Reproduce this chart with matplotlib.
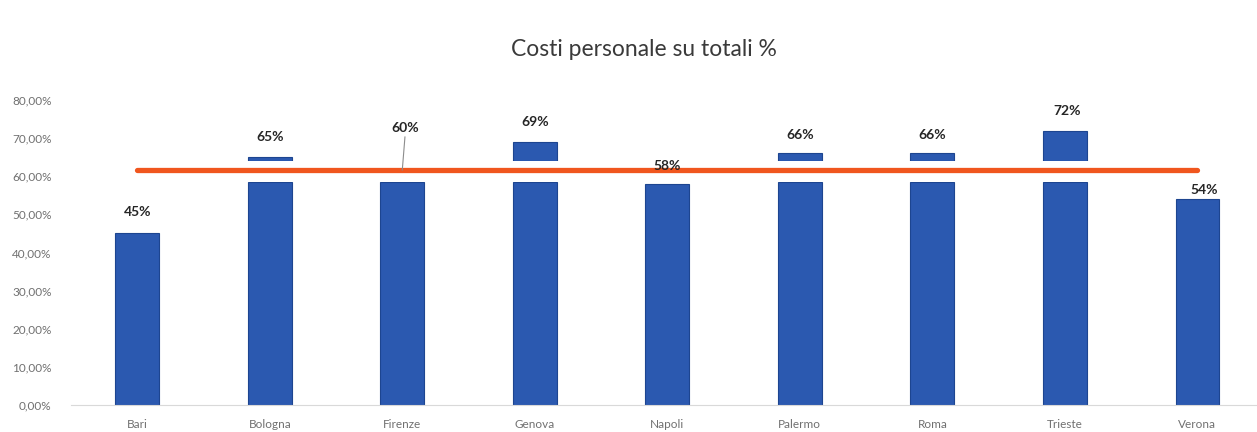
import numpy as np
import matplotlib.pyplot as plt
from matplotlib.ticker import FuncFormatter

# data
cities = ['Bari', 'Bologna', 'Firenze', 'Genova', 'Napoli', 'Palermo', 'Roma', 'Trieste', 'Verona']
costi_pct = [45, 65, 60, 69, 58, 66, 66, 72, 54]
label_texts = ['45%', '65%', '60%', '69%', '58%', '66%', '66%', '72%', '54%']

media = np.mean(costi_pct)  # orange line = average (~61.7%)

# white band that cuts the bars around the average line (as in the scan)
band_lo, band_hi = 58.4, 63.9

plt.rcParams['font.family'] = ['Lato', 'DejaVu Sans']

fig = plt.figure(figsize=(12.57, 4.32), dpi=100)
ax = fig.add_axes([0.0565, 0.0625, 0.9435, 0.706])

x = np.arange(len(cities))
bar_col = '#2b59b0'
edge_col = '#1d4590'

# lower part of each bar
lower = np.minimum(costi_pct, band_lo)
ax.bar(x, lower, width=0.33, color=bar_col, edgecolor=edge_col, linewidth=0.8, zorder=2)
# upper part above the white band
upper = np.array(costi_pct, dtype=float)
mask = upper > band_hi
ax.bar(x[mask], upper[mask] - band_hi, bottom=band_hi, width=0.33,
       color=bar_col, edgecolor=edge_col, linewidth=0.8, zorder=2)

ax.axhspan(band_lo, band_hi, color='white', zorder=2.5, lw=0)
ax.plot([x[0], x[-1]], [media, media], color='#f0561e', lw=3.8,
        solid_capstyle='round', zorder=3)

# value labels
offsets = [5.7, 5.3, 12.7, 5.3, 4.7, 4.9, 4.9, 5.2, 2.4]
dx = [0, 0, 0.02, 0, 0, 0, 0, 0.02, 0.05]
for i, (v, t) in enumerate(zip(costi_pct, label_texts)):
    ax.text(x[i] + dx[i], v + offsets[i], t, ha='center', va='center',
            fontsize=10, fontweight='bold', color='#262626', zorder=4)
# leader line for Firenze
ax.plot([x[2] + 0.02, x[2]], [costi_pct[2] + 10.3, media], color='#8c8c8c', lw=0.8, zorder=3.5)

ax.set_xlim(-0.5, 8.45)
ax.set_ylim(0, 80)
ax.set_yticks(np.arange(0, 81, 10))
ax.yaxis.set_major_formatter(FuncFormatter(lambda v, p: f'{v:.2f}%'.replace('.', ',')))
ax.set_xticks(x, labels=cities)
ax.tick_params(axis='both', length=0, labelsize=8.5, colors='#707070')
ax.tick_params(axis='x', pad=10)
ax.tick_params(axis='y', pad=14)
for s in ['top', 'right', 'left']:
    ax.spines[s].set_visible(False)
ax.spines['bottom'].set_color('#d9d9d9')

fig.text(0.5125, 0.885, 'Costi personale su totali %', ha='center', va='center',
         fontsize=16.5, color='#3a3a3a')

fig.savefig('out.png', dpi=100)
